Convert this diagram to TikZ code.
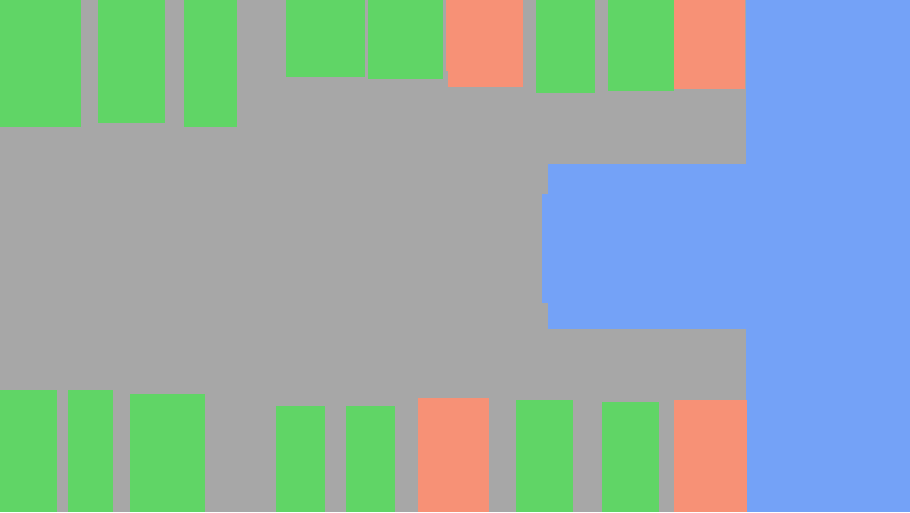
\documentclass[tikz,border=0pt]{standalone}
\usepackage{tikz}
\definecolor{PlanGrey}{HTML}{A7A7A7}
\definecolor{PlanGreen}{HTML}{60D566}
\definecolor{PlanSalmon}{HTML}{F79176}
\definecolor{PlanBlue}{HTML}{74A2F7}

\begin{document}
\begin{tikzpicture}[
    x=1pt,y=-1pt,
    free/.style={fill=PlanGreen},
    taken/.style={fill=PlanSalmon},
    hall/.style={fill=PlanBlue}
  ]
    \fill[PlanGrey] (0,0) rectangle (910,512);
    \useasboundingbox (0,0) rectangle (910,512);
    % blue areas
    \fill[hall] (746,0) rectangle (910,512);
    \fill[hall] (548,164) rectangle (746,329);
    \fill[hall] (542,194) rectangle (548,303);
    % top row
    \fill[free] (0,0) rectangle (81,127);
    \fill[free] (98,0) rectangle (165,123);
    \fill[free] (184,0) rectangle (237,127);
    \fill[free] (286,0) rectangle (365,77);
    \fill[free] (368,0) rectangle (443,79);
    \fill[taken] (448,0) rectangle (523,87);
    \fill[taken] (446,0) rectangle (448,71);
    \fill[free] (536,0) rectangle (595,93);
    \fill[free] (608,0) rectangle (674,91);
    \fill[taken] (674,0) rectangle (745,89);
    % bottom row
    \fill[free] (0,390) rectangle (57,512);
    \fill[free] (68,390) rectangle (113,512);
    \fill[free] (130,394) rectangle (205,512);
    \fill[free] (276,406) rectangle (325,512);
    \fill[free] (346,406) rectangle (395,512);
    \fill[taken] (418,398) rectangle (489,512);
    \fill[free] (516,400) rectangle (573,512);
    \fill[free] (602,402) rectangle (659,512);
    \fill[taken] (674,400) rectangle (747,512);
  \end{tikzpicture}
\end{document}
